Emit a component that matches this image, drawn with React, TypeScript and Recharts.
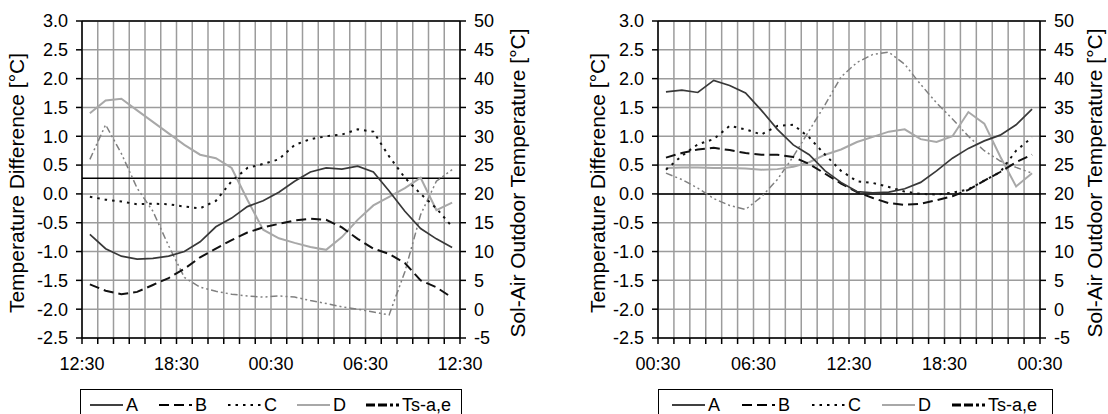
import {
  LineChart,
  Line,
  XAxis,
  YAxis,
  CartesianGrid,
  ReferenceLine,
} from "recharts";

// hour offsets of the measured points (axis runs 0..24 h)
const hours = [
  0.5, 1.5, 2.5, 3.5, 4.5, 5.5, 6.5, 7.5, 8.5, 9.5, 10.5, 11.5, 12.5, 13.5,
  14.5, 15.5, 16.5, 17.5, 18.5, 19.5, 20.5, 21.5, 22.5, 23.5,
];
const hourTicks = [
  0, 1, 2, 3, 4, 5, 6, 7, 8, 9, 10, 11, 12, 13, 14, 15, 16, 17, 18, 19, 20,
  21, 22, 23, 24,
];
const diffTicks = [-2.5, -2, -1.5, -1, -0.5, 0, 0.5, 1, 1.5, 2, 2.5, 3];
const solTicks = [-5, 0, 5, 10, 15, 20, 25, 30, 35, 40, 45, 50];

const leftTimeLabels = ["12:30", "18:30", "00:30", "06:30", "12:30"];
const rightTimeLabels = ["00:30", "06:30", "12:30", "18:30", "00:30"];

// left panel
const leftA = [
  -0.7, -0.95, -1.08, -1.13, -1.12, -1.08, -1.0, -0.83, -0.57, -0.42, -0.22,
  -0.12, 0.03, 0.22, 0.38, 0.45, 0.43, 0.48, 0.38, 0.05, -0.3, -0.6, -0.78,
  -0.93,
];
const leftB = [
  -1.57, -1.68, -1.74, -1.7, -1.58, -1.46, -1.3, -1.1, -0.95, -0.8, -0.67,
  -0.58, -0.52, -0.46, -0.43, -0.45, -0.58, -0.78, -0.95, -1.04, -1.2, -1.5,
  -1.62, -1.8,
];
const leftC = [
  -0.05, -0.1, -0.13, -0.18, -0.17, -0.18, -0.22, -0.25, -0.12, 0.22, 0.45,
  0.52, 0.6, 0.85, 0.95, 1.0, 1.03, 1.12, 1.08, 0.65, 0.28, 0.0, -0.25, -0.57,
];
const leftD = [
  1.4, 1.62, 1.65, 1.45, 1.25, 1.05, 0.85, 0.68, 0.62, 0.45, -0.1, -0.62,
  -0.77, -0.85, -0.92, -0.97, -0.75, -0.45, -0.2, -0.05, 0.1, 0.28, -0.28,
  -0.15,
];
const leftTs = [
  26, 32, 27, 21, 17, 11, 5.5, 3.8, 3.1, 2.6, 2.3, 2.1, 2.3, 2.1, 1.5, 1.0,
  0.4, 0, -0.5, -1.0, 6.5, 16.4, 22.2, 24.2,
];

// right panel
const rightA = [
  1.77, 1.8, 1.76, 1.97, 1.88, 1.75, 1.45, 1.12, 0.85, 0.68, 0.4, 0.2, 0.04,
  0.02, 0.03, 0.09, 0.2, 0.4, 0.62, 0.79, 0.92, 1.02, 1.2, 1.47,
];
const rightB = [
  0.63, 0.71, 0.77, 0.8, 0.76, 0.71, 0.68, 0.68, 0.64, 0.52, 0.35, 0.18, 0.03,
  -0.07, -0.16, -0.19, -0.17, -0.11, -0.04, 0.07, 0.23, 0.38, 0.55, 0.68,
];
const rightC = [
  0.42, 0.66, 0.86, 0.95, 1.18, 1.12, 1.03, 1.18, 1.2, 0.98, 0.68, 0.4, 0.22,
  0.19, 0.12, 0.04, 0.0, -0.01, 0.02, 0.08, 0.23, 0.38, 0.75, 0.98,
];
const rightD = [
  0.45, 0.46, 0.46, 0.45, 0.45, 0.44, 0.42, 0.43, 0.47, 0.55, 0.68, 0.77, 0.9,
  0.99, 1.08, 1.12, 0.95, 0.9, 1.0, 1.42, 1.22, 0.65, 0.13, 0.36,
];
const rightTs = [
  23.6, 22.5, 21, 19.2, 18, 17.3, 19.5, 22.5, 26.5, 31, 35.5, 40.3, 42.8,
  44.2, 44.6, 42.5, 39, 35.8, 33, 30, 27.5, 25.7, 24.6, 23.6,
];

const FONT = '"Liberation Sans", Arial, sans-serif';

const styles = {
  A: { stroke: "#383838", width: 1.7, dash: undefined },
  B: { stroke: "#111", width: 2, dash: "10 5" },
  C: { stroke: "#111", width: 2, dash: "2.5 5" },
  D: { stroke: "#a8a8a8", width: 2, dash: undefined },
  Ts: { stroke: "#808080", width: 1.5, dash: "7 3 2 3 2 3" },
};

type PanelProps = {
  left: number;
  width: number;
  leftAxisW: number;
  rightAxisW: number;
  refValue: number;
  timeLabels: string[];
  a: number[];
  b: number[];
  c: number[];
  d: number[];
  ts: number[];
  titleLeftX: number;
  titleRightX: number;
};

const Panel = (p: PanelProps) => {
  const data = hours.map((h, i) => ({
    h,
    A: p.a[i],
    B: p.b[i],
    C: p.c[i],
    D: p.d[i],
    Ts: p.ts[i],
  }));
  const axisStroke = { stroke: "#000", strokeWidth: 1.5 };
  const tickFont = { fontSize: 18, fill: "#000", fontFamily: FONT };

  return (
    <div style={{ position: "absolute", left: p.left, top: 0 }}>
      <LineChart
        width={p.width}
        height={390}
        data={data}
        margin={{ top: 21, right: 0, bottom: 0, left: 0 }}
      >
        <CartesianGrid
          yAxisId="left"
          stroke="#9c9c9c"
          strokeWidth={1.5}
          strokeDasharray=""
        />
        <XAxis
          dataKey="h"
          type="number"
          domain={[0, 24]}
          ticks={hourTicks}
          interval={0}
          height={52}
          tickSize={6}
          tickMargin={13}
          axisLine={axisStroke}
          tickLine={axisStroke}
          tick={tickFont}
          tickFormatter={(v: number) =>
            v % 6 === 0 ? p.timeLabels[v / 6] : ""
          }
        />
        <YAxis
          yAxisId="left"
          domain={[-2.5, 3]}
          ticks={diffTicks}
          interval={0}
          width={p.leftAxisW}
          tickSize={6}
          tickMargin={8}
          axisLine={axisStroke}
          tickLine={axisStroke}
          tick={tickFont}
          tickFormatter={(v: number) => v.toFixed(1)}
        />
        <YAxis
          yAxisId="right"
          orientation="right"
          domain={[-5, 50]}
          ticks={solTicks}
          interval={0}
          width={p.rightAxisW}
          tickSize={6}
          tickMargin={8}
          axisLine={axisStroke}
          tickLine={axisStroke}
          tick={tickFont}
        />
        <ReferenceLine yAxisId="left" y={3} stroke="#000" strokeWidth={1.5} />
        <ReferenceLine
          yAxisId="left"
          y={p.refValue}
          stroke="#000"
          strokeWidth={1.5}
        />
        <Line
          yAxisId="right"
          dataKey="Ts"
          stroke={styles.Ts.stroke}
          strokeWidth={styles.Ts.width}
          strokeDasharray={styles.Ts.dash}
          dot={false}
          activeDot={false}
          isAnimationActive={false}
        />
        <Line
          yAxisId="left"
          dataKey="D"
          stroke={styles.D.stroke}
          strokeWidth={styles.D.width}
          dot={false}
          activeDot={false}
          isAnimationActive={false}
        />
        <Line
          yAxisId="left"
          dataKey="C"
          stroke={styles.C.stroke}
          strokeWidth={styles.C.width}
          strokeDasharray={styles.C.dash}
          dot={false}
          activeDot={false}
          isAnimationActive={false}
        />
        <Line
          yAxisId="left"
          dataKey="B"
          stroke={styles.B.stroke}
          strokeWidth={styles.B.width}
          strokeDasharray={styles.B.dash}
          dot={false}
          activeDot={false}
          isAnimationActive={false}
        />
        <Line
          yAxisId="left"
          dataKey="A"
          stroke={styles.A.stroke}
          strokeWidth={styles.A.width}
          dot={false}
          activeDot={false}
          isAnimationActive={false}
        />
      </LineChart>
      <AxisTitle x={p.titleLeftX} text="Temperature Difference [°C]" />
      <AxisTitle x={p.titleRightX} text="Sol-Air Outdoor Temperature [°C]" />
    </div>
  );
};

const AxisTitle = ({ x, text }: { x: number; text: string }) => (
  <div
    style={{
      position: "absolute",
      left: x,
      top: 183,
      transform: "translate(-50%, -50%) rotate(-90deg)",
      whiteSpace: "nowrap",
      fontSize: 21,
      fontFamily: FONT,
      color: "#000",
    }}
  >
    {text}
  </div>
);

const legendItems = [
  { key: "A", label: "A", stroke: "#000", width: 1.6, dash: undefined },
  { key: "B", label: "B", stroke: "#000", width: 2, dash: "10 5" },
  { key: "C", label: "C", stroke: "#000", width: 2, dash: "2.5 5" },
  { key: "D", label: "D", stroke: "#a8a8a8", width: 2, dash: undefined },
  { key: "Ts", label: "Ts-a,e", stroke: "#000", width: 3, dash: "9 3 9 3 3 3" },
];

const LegendBox = ({
  left,
  width,
  firstX,
  step,
}: {
  left: number;
  width: number;
  firstX: number;
  step: number;
}) => (
  <div
    style={{
      position: "absolute",
      left,
      top: 389,
      width,
      height: 30,
      border: "1.5px solid #000",
      boxSizing: "border-box",
      fontFamily: FONT,
      fontSize: 18,
    }}
  >
    {legendItems.map((it, i) => (
      <div
        key={it.key}
        style={{
          position: "absolute",
          left: firstX + i * step,
          top: 5,
          display: "flex",
          alignItems: "center",
          height: 20,
        }}
      >
        <svg width={33} height={10}>
          <line
            x1={0}
            x2={33}
            y1={5}
            y2={5}
            stroke={it.stroke}
            strokeWidth={it.width}
            strokeDasharray={it.dash}
          />
        </svg>
        <span style={{ marginLeft: 3, lineHeight: "20px" }}>{it.label}</span>
      </div>
    ))}
  </div>
);

export default function App() {
  return (
    <div
      style={{
        position: "fixed",
        left: 0,
        top: 0,
        width: 1108,
        height: 414,
        overflow: "hidden",
        background: "#fff",
      }}
    >
      <Panel
        left={0}
        width={550}
        leftAxisW={82}
        rightAxisW={90}
        refValue={0.27}
        timeLabels={leftTimeLabels}
        a={leftA}
        b={leftB}
        c={leftC}
        d={leftD}
        ts={leftTs}
        titleLeftX={17}
        titleRightX={518}
      />
      <Panel
        left={580}
        width={528}
        leftAxisW={78}
        rightAxisW={68}
        refValue={0}
        timeLabels={rightTimeLabels}
        a={rightA}
        b={rightB}
        c={rightC}
        d={rightD}
        ts={rightTs}
        titleLeftX={18}
        titleRightX={515}
      />
      <LegendBox left={80} width={382} firstX={9} step={69} />
      <LegendBox left={658} width={395} firstX={13} step={70} />
    </div>
  );
}
